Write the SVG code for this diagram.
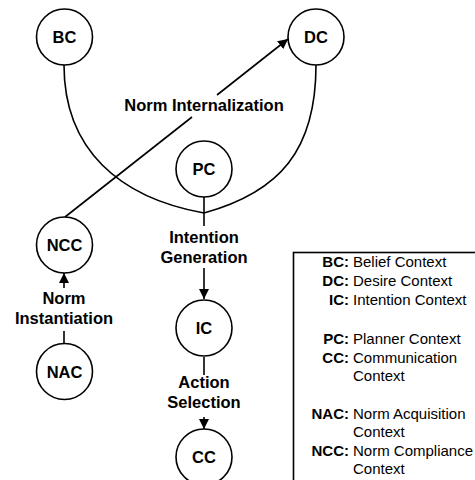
<svg xmlns="http://www.w3.org/2000/svg" width="475" height="480" viewBox="0 0 475 480">
<defs>
<style>
.node circle{fill:#fff;stroke:#000;stroke-width:1.6}
.node text{font-family:"Liberation Sans",Arial,sans-serif;font-weight:bold;font-size:16.5px;text-anchor:middle}
.conn path,.conn line{fill:none;stroke:#000;stroke-width:1.6}
.lbl{font-family:"Liberation Sans",Arial,sans-serif;font-weight:bold;font-size:16.5px;text-anchor:middle}
.lg{font-family:"Liberation Sans",Arial,sans-serif;font-size:15px}
.lk{font-weight:bold;text-anchor:end}
</style>
<marker id="arr" viewBox="0 0 10 10" refX="10" refY="5" markerWidth="10" markerHeight="10" markerUnits="userSpaceOnUse" orient="auto">
<path d="M0,0 L10,5 L0,10 z" fill="#000"/>
</marker>
</defs>
<rect width="475" height="480" fill="#fff"/>
<g id="connectors" class="conn">
<path d="M64,65 C64,150 120,198 204,213"/>
<path d="M316,65 C316,150 280,192 204,213"/>
<line x1="204" y1="197" x2="204" y2="226"/>
<line x1="204" y1="268" x2="204" y2="299" marker-end="url(#arr)"/>
<line x1="192" y1="117" x2="65" y2="217"/>
<line x1="217" y1="95" x2="288" y2="39" marker-end="url(#arr)"/>
<line x1="64" y1="343" x2="64" y2="331"/>
<line x1="64" y1="288" x2="64" y2="273" marker-end="url(#arr)"/>
<line x1="204" y1="357" x2="204" y2="375"/>
<line x1="204" y1="417" x2="204" y2="429" marker-end="url(#arr)"/>
<text class="lbl" x="204" y="111">Norm Internalization</text>
<text class="lbl" x="204" y="243">Intention</text>
<text class="lbl" x="204" y="263">Generation</text>
<text class="lbl" x="64" y="304">Norm</text>
<text class="lbl" x="64" y="324">Instantiation</text>
<text class="lbl" x="204" y="388">Action</text>
<text class="lbl" x="204" y="408">Selection</text>
</g>
<g id="BC" class="node"><circle cx="64.5" cy="37" r="28"/><text x="64.5" y="43">BC</text></g>
<g id="DC" class="node"><circle cx="316" cy="37" r="28"/><text x="316" y="43">DC</text></g>
<g id="PC" class="node"><circle cx="204" cy="169" r="28"/><text x="204" y="175">PC</text></g>
<g id="NCC" class="node"><circle cx="64.5" cy="245" r="28"/><text x="64.5" y="251">NCC</text></g>
<g id="NAC" class="node"><circle cx="64.5" cy="371.5" r="28"/><text x="64.5" y="377.5">NAC</text></g>
<g id="IC" class="node"><circle cx="204" cy="328" r="28"/><text x="204" y="334">IC</text></g>
<g id="CC" class="node"><circle cx="204" cy="457" r="28"/><text x="204" y="463">CC</text></g>
<g id="legend" class="lg">
<rect x="293.5" y="252.5" width="200" height="240" fill="none" stroke="#000" stroke-width="1.6"/>
<text class="lk" x="349" y="267">BC:</text><text x="353" y="267">Belief Context</text>
<text class="lk" x="349" y="286">DC:</text><text x="353" y="286">Desire Context</text>
<text class="lk" x="349" y="305">IC:</text><text x="353" y="305">Intention Context</text>
<text class="lk" x="349" y="344">PC:</text><text x="353" y="344">Planner Context</text>
<text class="lk" x="349" y="363">CC:</text><text x="353" y="363">Communication</text>
<text x="353" y="381">Context</text>
<text class="lk" x="349" y="419">NAC:</text><text x="353" y="419">Norm Acquisition</text>
<text x="353" y="437">Context</text>
<text class="lk" x="349" y="456">NCC:</text><text x="353" y="456">Norm Compliance</text>
<text x="353" y="474">Context</text>
</g>
</svg>
